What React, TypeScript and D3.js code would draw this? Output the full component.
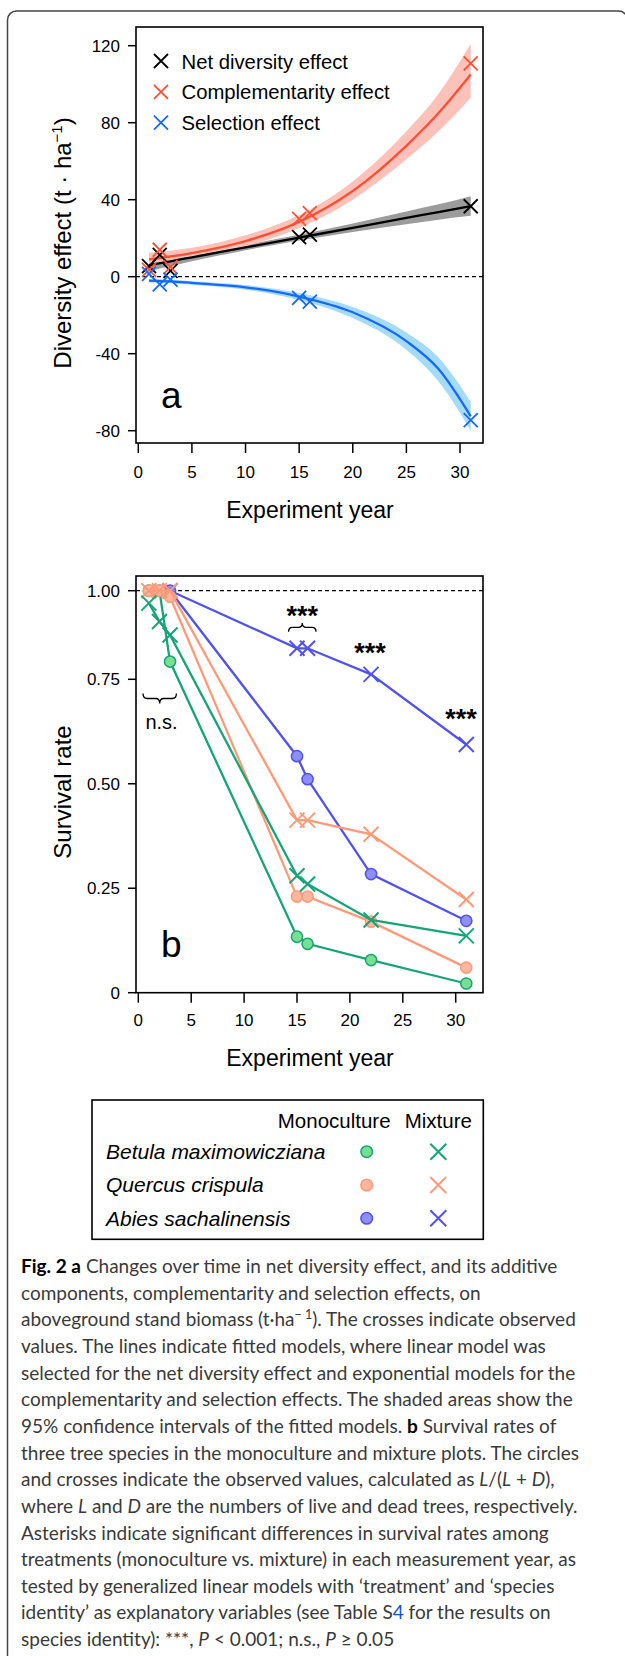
import React from 'react';
import * as d3 from 'd3';

// ---- panel a: observed diversity effects (t/ha)
const obsYears = [1, 2, 3, 15, 16, 31];
const netObs = [5.5, 11.3, 3.0, 20.6, 21.8, 36.6];
const compObs = [3.5, 14.0, 5.0, 30.0, 33.0, 110.8];
const selObs = [1.5, -4.0, -1.5, -11.0, -13.0, -74.5];

// fitted models, with 95% CI
const fitYears = [1, 3, 5, 10, 15, 20, 25, 28, 31];
const netFit = [6.0, 8.0, 10.1, 15.2, 20.3, 25.4, 30.6, 33.6, 36.7];
const netLo = [3.0, 5.5, 8.0, 13.8, 18.8, 23.2, 27.3, 29.6, 31.6];
const netHi = [9.0, 10.5, 12.2, 16.6, 21.8, 27.6, 33.9, 37.6, 41.8];
const compFit = [9.0, 10.5, 12.3, 18.5, 28.5, 44.5, 68.0, 85.0, 105.0];
const compLo = [6.5, 8.2, 10.0, 15.8, 25.3, 40.0, 61.0, 75.5, 93.0];
const compHi = [12.5, 13.5, 15.0, 21.5, 32.0, 49.5, 75.5, 95.0, 121.0];
const selFit = [-2.0, -2.4, -3.2, -5.5, -10.3, -18.5, -33.5, -48.0, -72.5];
const selLo = [-3.0, -3.4, -4.2, -6.8, -12.2, -21.5, -38.0, -54.5, -80.0];
const selHi = [-1.2, -1.5, -2.3, -4.3, -8.5, -15.8, -29.0, -42.0, -65.0];

const effectNames = ['Net diversity effect', 'Complementarity effect', 'Selection effect'];
const yTicksA = [-80, -40, 0, 40, 80, 120];
const xTicks = [0, 5, 10, 15, 20, 25, 30];

// ---- panel b: survival rates
const yearsB = [1, 2, 3, 15, 16, 22, 31];
const betulaMono = [1, 1, 0.8, 0.134, 0.117, 0.078, 0.022];
const betulaMix = [0.965, 0.913, 0.875, 0.28, 0.26, 0.174, 0.136];
const quercusMono = [1, 1, 0.983, 0.23, 0.23, 0.17, 0.06];
const quercusMix = [1, 1, 1, 0.413, 0.413, 0.379, 0.223];
const abiesYears = [3, 15, 16, 22, 31];
const abiesMono = [1, 0.566, 0.511, 0.284, 0.172];
const abiesMix = [1, 0.8375, 0.8375, 0.764, 0.594];

const speciesNames = ['Betula maximowicziana', 'Quercus crispula', 'Abies sachalinensis'];
const yTicksB = [0, 0.25, 0.5, 0.75, 1];
const yTickLabelsB = ['0', '0.25', '0.50', '0.75', '1.00'];

// significance labels [year, rate, text]
const sigLabels: [number, number, string][] = [
  [15.5, 0.948, '***'],
  [21.9, 0.844, '***'],
  [30.5, 0.671, '***'],
];

const captionLines = [
  [{ t: 'Fig. 2 a', b: true }, { t: ' Changes over time in net diversity effect, and its additive' }],
  [{ t: 'components, complementarity and selection effects, on' }],
  [{ t: 'aboveground stand biomass (t·ha' }, { t: '− 1', sup: true }, { t: '). The crosses indicate observed' }],
  [{ t: 'values. The lines indicate fitted models, where linear model was' }],
  [{ t: 'selected for the net diversity effect and exponential models for the' }],
  [{ t: 'complementarity and selection effects. The shaded areas show the' }],
  [{ t: '95% confidence intervals of the fitted models. ' }, { t: 'b', b: true }, { t: ' Survival rates of' }],
  [{ t: 'three tree species in the monoculture and mixture plots. The circles' }],
  [{ t: 'and crosses indicate the observed values, calculated as ' }, { t: 'L', i: true }, { t: '/(' }, { t: 'L', i: true }, { t: ' + ' }, { t: 'D', i: true }, { t: '),' }],
  [{ t: 'where ' }, { t: 'L', i: true }, { t: ' and ' }, { t: 'D', i: true }, { t: ' are the numbers of live and dead trees, respectively.' }],
  [{ t: 'Asterisks indicate significant differences in survival rates among' }],
  [{ t: 'treatments (monoculture vs. mixture) in each measurement year, as' }],
  [{ t: 'tested by generalized linear models with ‘treatment’ and ‘species' }],
  [{ t: 'identity’ as explanatory variables (see Table S' }, { t: '4', link: true }, { t: ' for the results on' }],
  [{ t: 'species identity): ***, ' }, { t: 'P', i: true }, { t: ' < 0.001; n.s., ' }, { t: 'P', i: true }, { t: ' ≥ 0.05' }],
];

const RED = '#ff4f33';
const BLUE = '#1469ff';
const GREEN = '#17a578';
const ORANGE = '#ff9a78';
const PURPLE = '#5252f0';

const cross = (x: number, y: number, h: number) =>
  `M${x - h},${y - h}L${x + h},${y + h}M${x - h},${y + h}L${x + h},${y - h}`;

const brace = (x1: number, x2: number, yEnd: number, yTip: number) => {
  const xm = (x1 + x2) / 2, ym = (yEnd + yTip) / 2, r = 4;
  return `M${x1},${yEnd}Q${x1},${ym} ${x1 + r},${ym}L${xm - r},${ym}Q${xm},${ym} ${xm},${yTip}` +
    `Q${xm},${ym} ${xm + r},${ym}L${x2 - r},${ym}Q${x2},${ym} ${x2},${yEnd}`;
};

const AX = 'Liberation Sans, Arial, sans-serif';

export default function App() {
  // scales panel a
  const xA = d3.scaleLinear().domain([0, 30]).range([138.3, 460]);
  const yA = d3.scaleLinear().domain([-80, 120]).range([430.7, 45.7]);
  // scales panel b (the top quarter is drawn compressed in the original)
  const xB = d3.scaleLinear().domain([0, 30]).range([138.3, 455.7]);
  const yB = d3.scaleLinear().domain([0, 0.75, 1]).range([992.7, 679.3, 590.7]);

  const lineA = (vals: number[]) =>
    d3.line<number>().x((_, i) => xA(fitYears[i])).y(d => yA(d)).curve(d3.curveMonotoneX)(vals) || '';
  const bandA = (lo: number[], hi: number[]) =>
    d3.area<number>().x((_, i) => xA(fitYears[i])).y0((_, i) => yA(lo[i])).y1(d => yA(d)).curve(d3.curveMonotoneX)(hi) || '';

  const boxA = { x0: 136, x1: 483, y0: 27, y1: 443 };
  const boxB = { x0: 136, x1: 483, y0: 576, y1: 992.7 };

  const fits = [
    { fit: netFit, lo: netLo, hi: netHi, col: '#000', band: '#9c9c9c' },
    { fit: compFit, lo: compLo, hi: compHi, col: RED, band: '#fcc2b9' },
    { fit: selFit, lo: selLo, hi: selHi, col: BLUE, band: '#a6dbf6' },
  ];
  const obs = [
    { v: netObs, col: '#000' },
    { v: compObs, col: RED },
    { v: selObs, col: BLUE },
  ];

  const seriesB = [
    { yrs: abiesYears, v: abiesMono, col: PURPLE, fill: '#8e8ef7', circle: true },
    { yrs: abiesYears, v: abiesMix, col: PURPLE, fill: '', circle: false },
    { yrs: yearsB, v: betulaMono, col: GREEN, fill: '#78de92', circle: true },
    { yrs: yearsB, v: quercusMono, col: ORANGE, fill: '#ffb79f', circle: true },
    { yrs: yearsB, v: quercusMix, col: ORANGE, fill: '', circle: false },
    { yrs: yearsB, v: betulaMix, col: GREEN, fill: '', circle: false },
  ];
  const legendB = [
    { col: GREEN, fill: '#78de92' },
    { col: ORANGE, fill: '#ffb79f' },
    { col: PURPLE, fill: '#8e8ef7' },
  ];

  return (
    <svg width={625} height={1656} style={{ position: 'absolute', left: 0, top: 0, background: '#fff' }}>
      <rect x={7.5} y={11} width={620} height={1700} rx={9} fill="none" stroke="#444" strokeWidth={1.5} />

      {/* ---------- panel a ---------- */}
      <g fontFamily={AX}>
        {fits.map((f, i) => <path key={'b' + i} d={bandA(f.lo, f.hi)} fill={f.band} />)}
        <line x1={boxA.x0} x2={boxA.x1} y1={yA(0)} y2={yA(0)} stroke="#000" strokeWidth={1.3} strokeDasharray="4,3" />
        {fits.map((f, i) => <path key={'l' + i} d={lineA(f.fit)} fill="none" stroke={f.col} strokeWidth={2.3} />)}
        {obs.map((o, j) => o.v.map((v, i) => (
          <path key={`o${j}-${i}`} d={cross(xA(obsYears[i]), yA(v), 7)} stroke={o.col} strokeWidth={1.8} fill="none" />
        )))}
        <rect x={boxA.x0} y={boxA.y0} width={boxA.x1 - boxA.x0} height={boxA.y1 - boxA.y0} fill="none" stroke="#000" strokeWidth={1.6} />
        {yTicksA.map(t => (
          <g key={t}>
            <line x1={128} x2={boxA.x0} y1={yA(t)} y2={yA(t)} stroke="#000" strokeWidth={1.5} />
            <text x={120} y={yA(t) + 6} textAnchor="end" fontSize={17}>{t < 0 ? '-' + Math.abs(t) : t}</text>
          </g>
        ))}
        {xTicks.map(t => (
          <g key={t}>
            <line x1={xA(t)} x2={xA(t)} y1={boxA.y1} y2={boxA.y1 + 10} stroke="#000" strokeWidth={1.5} />
            <text x={xA(t)} y={478} textAnchor="middle" fontSize={17}>{t}</text>
          </g>
        ))}
        <text x={310} y={518} textAnchor="middle" fontSize={23}>Experiment year</text>
        <text transform="translate(71,243) rotate(-90)" textAnchor="middle" fontSize={24}>
          Diversity effect (t · ha<tspan dy={-9} fontSize={15}>−1</tspan><tspan dy={9}>)</tspan>
        </text>
        {effectNames.map((n, i) => (
          <g key={n}>
            <path d={cross(161, 61 + i * 30.8, 7)} stroke={obs[i].col} strokeWidth={1.8} fill="none" />
            <text x={181.5} y={68.5 + i * 30.8} fontSize={20.3}>{n}</text>
          </g>
        ))}
        <text x={161} y={408} fontSize={37}>a</text>
      </g>

      {/* ---------- panel b ---------- */}
      <g fontFamily={AX}>
        <line x1={boxB.x0} x2={boxB.x1} y1={yB(1)} y2={yB(1)} stroke="#000" strokeWidth={1.3} strokeDasharray="4,3" />
        {seriesB.map((s, j) => {
          const pts = s.v.map((v, i) => [xB(s.yrs[i]), yB(v)] as [number, number]);
          return (
            <g key={'s' + j}>
              <path d={d3.line()(pts) || ''} fill="none" stroke={s.col} strokeWidth={2.3} />
              {pts.map((p, i) => s.circle
                ? <circle key={i} cx={p[0]} cy={p[1]} r={5.6} fill={s.fill} stroke={s.col} strokeWidth={1.5} />
                : <path key={i} d={cross(p[0], p[1], 7.5)} stroke={s.col} strokeWidth={2} fill="none" />)}
            </g>
          );
        })}
        <rect x={boxB.x0} y={boxB.y0} width={boxB.x1 - boxB.x0} height={boxB.y1 - boxB.y0} fill="none" stroke="#000" strokeWidth={1.6} />
        {yTicksB.map((t, i) => (
          <g key={t}>
            <line x1={128} x2={boxB.x0} y1={yB(t)} y2={yB(t)} stroke="#000" strokeWidth={1.5} />
            <text x={120} y={yB(t) + 6} textAnchor="end" fontSize={17}>{yTickLabelsB[i]}</text>
          </g>
        ))}
        {xTicks.map(t => (
          <g key={t}>
            <line x1={xB(t)} x2={xB(t)} y1={boxB.y1} y2={boxB.y1 + 10} stroke="#000" strokeWidth={1.5} />
            <text x={xB(t)} y={1026} textAnchor="middle" fontSize={17}>{t}</text>
          </g>
        ))}
        <text x={310} y={1066} textAnchor="middle" fontSize={23}>Experiment year</text>
        <text transform="translate(71,792) rotate(-90)" textAnchor="middle" fontSize={24}>Survival rate</text>
        {sigLabels.map(([yr, r, s]) => (
          <text key={yr} x={xB(yr)} y={yB(r) + 16} textAnchor="middle" fontSize={27} fontWeight="bold">{s}</text>
        ))}
        <path d={brace(xB(14.2), xB(16.8), yB(0.884), yB(0.909))} fill="none" stroke="#000" strokeWidth={1.3} />
        <path d={brace(xB(0.45), xB(3.6), yB(0.716), yB(0.692))} fill="none" stroke="#000" strokeWidth={1.3} />
        <text x={xB(2.2)} y={yB(0.648) + 7} textAnchor="middle" fontSize={20}>n.s.</text>
        <text x={161} y={957} fontSize={37}>b</text>
      </g>

      {/* ---------- legend b ---------- */}
      <g fontFamily={AX}>
        <rect x={92} y={1100} width={391.3} height={139.3} fill="none" stroke="#000" strokeWidth={1.6} />
        <text x={334.2} y={1127.5} textAnchor="middle" fontSize={20.5}>Monoculture</text>
        <text x={438.3} y={1127.5} textAnchor="middle" fontSize={20.5}>Mixture</text>
        {speciesNames.map((n, i) => (
          <g key={n}>
            <text x={106} y={1159 + i * 33.3} fontSize={21} fontStyle="italic">{n}</text>
            <circle cx={366.7} cy={1151.7 + i * 33.3} r={5.8} fill={legendB[i].fill} stroke={legendB[i].col} strokeWidth={1.5} />
            <path d={cross(438.3, 1151.7 + i * 33.3, 8)} stroke={legendB[i].col} strokeWidth={2} fill="none" />
          </g>
        ))}
      </g>

      {/* ---------- caption ---------- */}
      <g fontFamily="Lato, 'Open Sans', sans-serif" fontSize={19} fill="#3a3a3a">
        {captionLines.map((ln, i) => (
          <text key={i} x={21} y={1273 + i * 26.65}>
            {ln.map((s: any, k) => s.sup
              ? <tspan key={k} dy={-7} fontSize={12.5}>{s.t}</tspan>
              : <tspan key={k} dy={k > 0 && (ln[k - 1] as any).sup ? 7 : 0}
                  fontWeight={s.b ? 'bold' : 'normal'} fontStyle={s.i ? 'italic' : 'normal'}
                  fill={s.b ? '#000' : s.link ? '#1a4fd8' : '#3a3a3a'}>{s.t}</tspan>)}
          </text>
        ))}
      </g>
    </svg>
  );
}
